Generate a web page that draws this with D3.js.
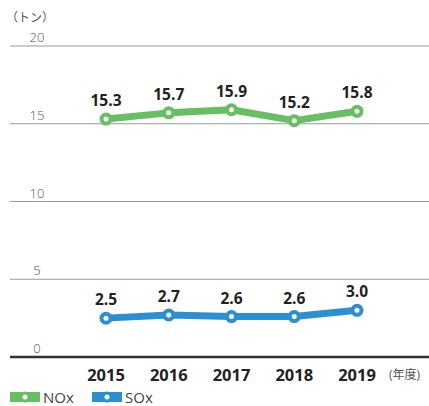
<!DOCTYPE html>
<html>
<head>
<meta charset="utf-8">
<script src="https://cdn.jsdelivr.net/npm/d3@7"></script>
<style>
  body { margin: 0; background: #fff; }
  svg { display: block; font-family: 'Open Sans', 'Noto Sans CJK JP', sans-serif; }
</style>
</head>
<body>
<script>
const years = ['2015', '2016', '2017', '2018', '2019']
const nox = [15.3, 15.7, 15.9, 15.2, 15.8]
const sox = [2.5, 2.7, 2.6, 2.6, 3.0]
const yTicks = [0, 5, 10, 15, 20]

const WIDTH = 429, HEIGHT = 406
const GREEN = '#68bf63', BLUE = '#2b90d2'

let svg = d3.select('body').append('svg')
  .attr('width', WIDTH)
  .attr('height', HEIGHT)

// scales
let x = d3.scalePoint()
  .domain(years)
  .range([106, 357])

let y = d3.scaleLinear()
  .domain([0, 20])
  .range([357, 46])

// gridlines + tick labels
let grid = svg.append('g').attr('class', 'grid')
grid.selectAll('line')
  .data(yTicks)
  .enter().append('line')
    .attr('x1', 10).attr('x2', WIDTH)
    .attr('y1', (d) => y(d)).attr('y2', (d) => y(d))
    .attr('stroke', (d) => d === 0 ? '#333' : '#9a9a9a')
    .attr('stroke-width', (d) => d === 0 ? 2.5 : 1)

grid.selectAll('text')
  .data(yTicks)
  .enter().append('text')
    .attr('x', 37)
    .attr('y', (d) => y(d) - 4)
    .attr('text-anchor', 'middle')
    .attr('font-size', 13)
    .attr('font-weight', 300)
    .attr('fill', '#555')
    .text((d) => d)

svg.append('text')
  .attr('x', 6).attr('y', 22)
  .attr('font-size', 12)
  .attr('fill', '#555')
  .text('（トン）')

// x axis labels
svg.append('g').selectAll('text')
  .data(years)
  .enter().append('text')
    .attr('x', (d) => x(d))
    .attr('y', 381)
    .attr('text-anchor', 'middle')
    .attr('font-size', 16.5)
    .attr('font-weight', 700)
    .attr('fill', '#222')
    .text((d) => d)

svg.append('text')
  .attr('x', 389).attr('y', 379)
  .attr('font-size', 12)
  .attr('fill', '#555')
  .text('(年度)')

// series
let series = [
  { name: 'NOx', color: GREEN, values: nox },
  { name: 'SOx', color: BLUE, values: sox }
]

let line = d3.line()
  .x((d, i) => x(years[i]))
  .y((d) => y(d))

series.forEach((s) => {
  let g = svg.append('g').attr('class', 'series')
  g.append('path')
    .datum(s.values)
    .attr('d', line)
    .attr('fill', 'none')
    .attr('stroke', s.color)
    .attr('stroke-width', 7)
    .attr('stroke-linejoin', 'round')
  g.selectAll('circle')
    .data(s.values)
    .enter().append('circle')
      .attr('cx', (d, i) => x(years[i]))
      .attr('cy', (d) => y(d))
      .attr('r', 4.5)
      .attr('fill', '#fff')
      .attr('stroke', s.color)
      .attr('stroke-width', 4)
  g.selectAll('text')
    .data(s.values)
    .enter().append('text')
      .attr('x', (d, i) => x(years[i]))
      .attr('y', (d) => y(d) - 13)
      .attr('text-anchor', 'middle')
      .attr('font-size', 15.5)
      .attr('font-weight', 700)
      .attr('fill', '#222')
      .text((d) => d.toFixed(1))
})

// legend
let legend = svg.append('g').selectAll('g')
  .data(series)
  .enter().append('g')
    .attr('transform', (d, i) => 'translate(' + (10 + i * 82) + ',397)')
legend.append('rect')
  .attr('x', 0).attr('y', -5)
  .attr('width', 30).attr('height', 10)
  .attr('fill', (d) => d.color)
legend.append('circle')
  .attr('cx', 15).attr('cy', 0)
  .attr('r', 5.5)
  .attr('fill', (d) => d.color)
legend.append('circle')
  .attr('cx', 15).attr('cy', 0)
  .attr('r', 2.5)
  .attr('fill', '#fff')
legend.append('text')
  .attr('x', 33).attr('y', 5.5)
  .attr('font-size', 15)
  .attr('fill', '#444')
  .text((d) => d.name)
</script>
</body>
</html>
